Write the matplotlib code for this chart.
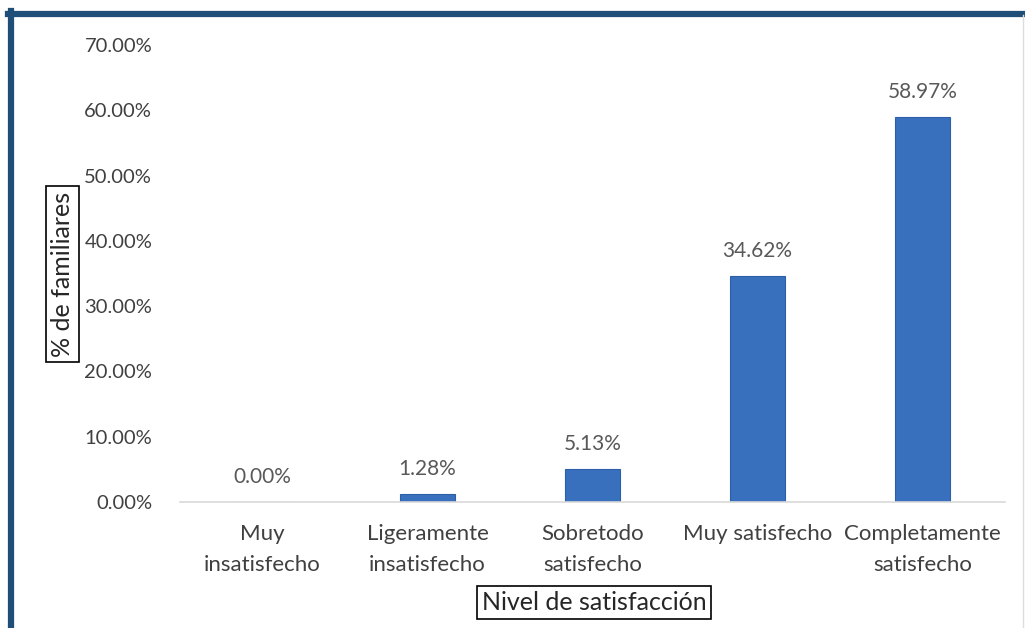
import matplotlib.pyplot as plt
import numpy as np
from matplotlib.lines import Line2D

# data
categorias = ["Muy\ninsatisfecho", "Ligeramente\ninsatisfecho", "Sobretodo\nsatisfecho",
              "Muy satisfecho", "Completamente\nsatisfecho"]
porcentajes = [0.00, 1.28, 5.13, 34.62, 58.97]
yticks = [0, 10, 20, 30, 40, 50, 60, 70]

plt.rcParams['font.family'] = ['Lato', 'DejaVu Sans']

fig = plt.figure(figsize=(10.25, 6.28), dpi=100)
ax = fig.add_axes([0.1756, 0.2006, 0.805, 0.7277])

x = np.arange(len(categorias))
bars = ax.bar(x, porcentajes, width=0.33, color='#3870be', edgecolor='#2d5fa6', linewidth=0.8)

for b, v in zip(bars, porcentajes):
    ax.annotate('%.2f%%' % v, (b.get_x() + b.get_width() / 2, v),
                xytext=(0, 18), textcoords='offset points',
                ha='center', va='center', fontsize=15, color='#595959')

ax.set_xlim(-0.5, len(categorias) - 0.5)
ax.set_ylim(0, 70)
ax.set_yticks(yticks)
ax.set_yticklabels(['%.2f%%' % t for t in yticks], fontsize=14.5, color='#404040')
ax.set_xticks(x)
ax.set_xticklabels(categorias, fontsize=16, color='#404040', linespacing=1.65)
ax.tick_params(axis='both', length=0)
ax.tick_params(axis='x', pad=16)
ax.tick_params(axis='y', pad=20)

for s in ['top', 'right', 'left']:
    ax.spines[s].set_visible(False)
ax.spines['bottom'].set_color('#d9d9d9')
ax.spines['bottom'].set_linewidth(1.2)

# boxed axis titles
box = dict(boxstyle='square,pad=0.2', facecolor='white', edgecolor='black', linewidth=1.2)
fig.text(62 / 1025, 1 - 274 / 628, '% de familiares', rotation=90, ha='center', va='center',
         fontsize=18, color='#262626', bbox=box)
fig.text(594 / 1025, 1 - 602 / 628, 'Nivel de satisfacción', ha='center', va='center',
         fontsize=18, color='#262626', bbox=box)

# dark blue frame around the picture
fig.add_artist(Line2D([8 / 1025, 1], [1 - 13.5 / 628, 1 - 13.5 / 628], color='#1f4e79', linewidth=4.5))
fig.add_artist(Line2D([11 / 1025, 11 / 1025], [0, 1 - 11 / 628], color='#1f4e79', linewidth=4.5))
fig.add_artist(Line2D([1023 / 1025, 1023 / 1025], [0, 1 - 15 / 628], color='#dddddd', linewidth=1))

fig.savefig('out.png', dpi=100)
